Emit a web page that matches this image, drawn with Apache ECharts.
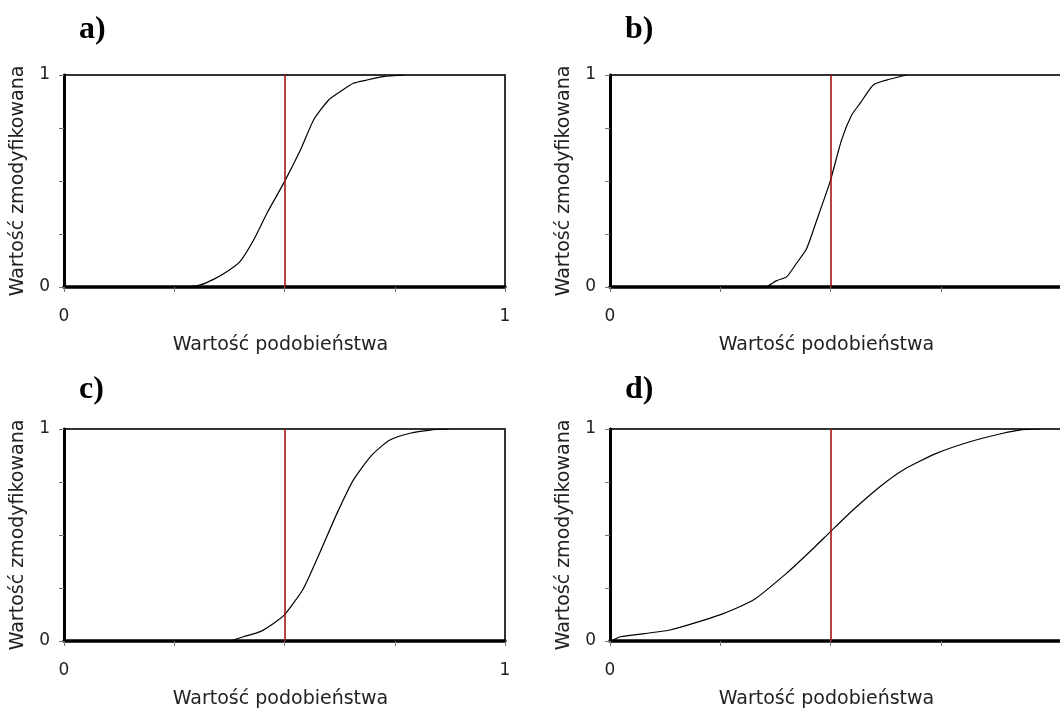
<!DOCTYPE html>
<html>
<head>
<meta charset="utf-8">
<title>Wartość zmodyfikowana</title>
<script src="https://cdn.jsdelivr.net/npm/echarts@6.0.0/dist/echarts.min.js"></script>
<style>
    html, body { margin: 0; padding: 0; background: #fff; }
    #main-info { width: 1060px; height: 709px; }
</style>
</head>
<body>
<div id="main-info"></div>
<script>
// values: [similarity, modified value]
var curveA = [[0.279,0],[0.309,0.01],[0.339,0.036],[0.369,0.072],[0.399,0.12],[0.43,0.222],[0.46,0.347],[0.5,0.497],[0.536,0.646],[0.566,0.788],[0.6,0.882],[0.626,0.921],[0.656,0.961],[0.686,0.976],[0.724,0.992],[0.773,1]];
var curveB = [[0.355,0],[0.378,0.03],[0.401,0.049],[0.423,0.112],[0.446,0.182],[0.469,0.316],[0.499,0.497],[0.525,0.693],[0.548,0.811],[0.567,0.866],[0.597,0.953],[0.627,0.976],[0.673,1]];
var curveC = [[0.377,0],[0.407,0.02],[0.445,0.044],[0.475,0.083],[0.5,0.123],[0.543,0.248],[0.581,0.421],[0.619,0.602],[0.656,0.759],[0.698,0.877],[0.739,0.948],[0.785,0.98],[0.83,0.995],[0.872,1]];
var curveD = [[0.004,0],[0.023,0.02],[0.136,0.052],[0.249,0.123],[0.325,0.193],[0.4,0.319],[0.453,0.421],[0.5,0.516],[0.551,0.618],[0.612,0.728],[0.665,0.807],[0.74,0.885],[0.816,0.94],[0.891,0.98],[0.929,0.995],[0.974,1]];

var panelLabels = ['a)', 'b)', 'c)', 'd)'];
var thresholdX = 0.5;
var tickValues = [0, 0.25, 0.5, 0.75, 1];
var tickValuesCut = [0, 0.25, 0.5, 0.75];
var xLabelValues = [0, 1];
var xLabelValuesCut = [0];
var yLabelValues = [0, 1];
var xName = 'Wartość podobieństwa';
var yName = 'Wartość zmodyfikowana';

var curves = [curveA, curveB, curveC, curveD];

// b) and d) are cut by the right edge of the picture
var grids = [
    {left: 64, top: 75, width: 441, height: 212},
    {left: 610, top: 75, width: 510, height: 212},
    {left: 64, top: 429, width: 441, height: 212},
    {left: 610, top: 429, width: 510, height: 212}
];
var titlePos = [[74, 9], [620, 9], [74, 369], [620, 369]];

var font = 'DejaVu Sans';
var myChart = echarts.init(document.getElementById('main-info'));

var option = {
    animation: false,
    backgroundColor: '#fff',
    title: panelLabels.map(function(t, i){
        return {
            text: t,
            left: titlePos[i][0],
            top: titlePos[i][1],
            textStyle: {fontFamily: 'Liberation Serif', fontWeight: 'bold', fontSize: 32, color: '#000'}
        };
    }),
    grid: grids.map(function(g){
        return Object.assign({show: true, outerBoundsMode: 'none', borderColor: '#333', borderWidth: 2, backgroundColor: '#fff'}, g);
    }),
    xAxis: grids.map(function(g, i){
        var cut = (i % 2 === 1);
        // keep the name centred on the 0..1 span, not on the wider grid
        var extra = (g.width - 441);
        return {
            type: 'value',
            gridIndex: i,
            min: 0,
            max: g.width / 441,
            splitLine: {show: false},
            axisLine: {show: true, onZero: false, lineStyle: {color: '#000', width: 3.5}},
            axisTick: {show: true, length: 5, customValues: cut ? tickValuesCut : tickValues, lineStyle: {color: '#777', width: 1}},
            axisLabel: {show: true, margin: 21, customValues: cut ? xLabelValuesCut : xLabelValues,
                        fontFamily: font, fontSize: 17, color: '#222'},
            name: xName,
            nameLocation: 'middle',
            nameGap: 49,
            nameTextStyle: {fontFamily: font, fontSize: 19, color: '#222', padding: [0, extra + 8, 0, 0]}
        };
    }),
    yAxis: grids.map(function(g, i){
        return {
            type: 'value',
            gridIndex: i,
            min: 0,
            max: 1,
            splitLine: {show: false},
            axisLine: {show: true, onZero: false, lineStyle: {color: '#000', width: 3}},
            axisTick: {show: true, length: 5, customValues: tickValues, lineStyle: {color: '#777', width: 1}},
            axisLabel: {show: true, margin: 14, customValues: yLabelValues,
                        fontFamily: font, fontSize: 17, color: '#222'},
            name: yName,
            nameLocation: 'middle',
            nameGap: 36,
            nameTextStyle: {fontFamily: font, fontSize: 19, color: '#222'}
        };
    }),
    series: curves.map(function(c, i){
        return {
            type: 'line',
            xAxisIndex: i,
            yAxisIndex: i,
            data: c,
            showSymbol: false,
            smooth: 0.2,
            lineStyle: {color: '#000', width: 1.2},
            markLine: {
                silent: true,
                symbol: ['none', 'none'],
                label: {show: false},
                lineStyle: {color: '#a81414', width: 1.6, type: 'solid'},
                data: [{xAxis: thresholdX}]
            }
        };
    })
};

myChart.setOption(option);
</script>
</body>
</html>
